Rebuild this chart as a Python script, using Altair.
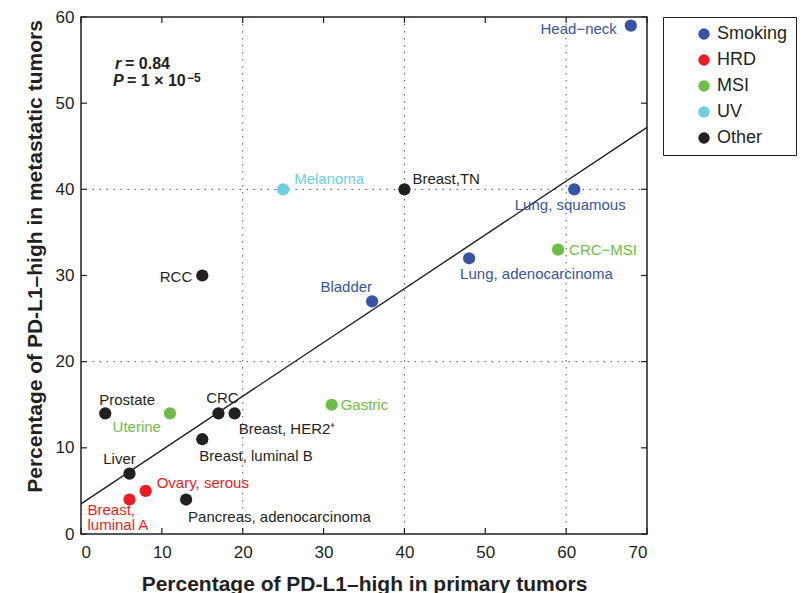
import altair as alt
import pandas as pd

# ---------------- data ----------------
names = ["Head−neck", "Lung, squamous", "Lung, adenocarcinoma", "Bladder",
         "CRC−MSI", "Gastric", "Uterine", "Melanoma", "Breast,TN", "RCC",
         "Prostate", "CRC", "Breast, HER2⁺", "Breast, luminal B", "Liver",
         "Pancreas, adenocarcinoma", "Ovary, serous", "Breast,\nluminal A"]
primary = [68, 61, 48, 36, 59, 31, 11, 25, 40, 15, 3, 17, 19, 15, 6, 13, 8, 6]
metastatic = [59, 40, 32, 27, 33, 15, 14, 40, 40, 30, 14, 14, 14, 11, 7, 4, 5, 4]
groups = ["Smoking", "Smoking", "Smoking", "Smoking", "MSI", "MSI", "MSI", "UV",
          "Other", "Other", "Other", "Other", "Other", "Other", "Other", "Other",
          "HRD", "HRD"]

group_order = ["Smoking", "HRD", "MSI", "UV", "Other"]
group_colors = ["#3953A4", "#ED1C24", "#6DBE45", "#6DCFE0", "#231F20"]

tick_values = [0, 10, 20, 30, 40, 50, 60, 70]
y_tick_values = [0, 10, 20, 30, 40, 50, 60]
grid_x = [20, 40, 60]
grid_y = [20, 40]

fit_x = [0, 70]
fit_y = [3.5, 47.2]

# label placement (style only): align, dx, dy
label_style = [
    ("right", -14, 3), ("center", -4, 16), ("left", -9, 16), ("right", 0, -14),
    ("left", 11, 0), ("left", 9, 0), ("right", -9, 14), ("left", 11, -10),
    ("left", 8, -10), ("right", -10, 1), ("left", -6, -13), ("center", 4, -15),
    ("left", 4, 16), ("left", -3, 17), ("center", -10, -15), ("left", 2, 17),
    ("left", 11, -8), ("left", -42, 10.5),
]

# ---------------- chart ----------------
W, H = 566, 517
FONT = "Liberation Sans"
INK = "#231F20"

df = pd.DataFrame({"name": names, "primary": primary,
                   "metastatic": metastatic, "group": groups,
                   "idx": list(range(len(names)))})

xs = alt.Scale(domain=[0, 70], nice=False, zero=False)
ys = alt.Scale(domain=[0, 60], nice=False, zero=False)
cs = alt.Scale(domain=group_order, range=group_colors)

x_axis = alt.Axis(values=tick_values, ticks=False, domain=False, grid=False,
                  labelFontSize=17, labelColor=INK, labelPadding=10,
                  title="Percentage of PD-L1–high in primary tumors",
                  titleFontSize=21, titleFontWeight="bold", titleColor=INK,
                  titleBaseline="alphabetic", titleY=56)
y_axis = alt.Axis(values=y_tick_values, ticks=False, domain=False, grid=False,
                  labelFontSize=17, labelColor=INK, labelPadding=7,
                  title="Percentage of PD-L1–high in metastatic tumors",
                  titleFontSize=21, titleFontWeight="bold", titleColor=INK,
                  titleAngle=-90, titleAlign="center", titleBaseline="middle",
                  titleX=-46, titleY=239)

grid_v = alt.Chart(pd.DataFrame({"g": grid_x})).mark_rule(
    color="#555555", strokeWidth=1, strokeDash=[1.5, 5.5]
).encode(x=alt.X("g:Q", scale=xs, axis=x_axis))

grid_h = alt.Chart(pd.DataFrame({"g": grid_y})).mark_rule(
    color="#555555", strokeWidth=1, strokeDash=[1.5, 5.5]
).encode(y=alt.Y("g:Q", scale=ys, axis=y_axis))

tdx = pd.DataFrame({"t": tick_values})
tdy = pd.DataFrame({"t": y_tick_values})
ticks_bottom = alt.Chart(tdx).mark_rule(color=INK, strokeWidth=1.2).encode(
    x=alt.X("t:Q", scale=xs), y=alt.value(H), y2=alt.value(H - 6))
ticks_top = alt.Chart(tdx).mark_rule(color=INK, strokeWidth=1.2).encode(
    x=alt.X("t:Q", scale=xs), y=alt.value(0), y2=alt.value(6))
ticks_left = alt.Chart(tdy).mark_rule(color=INK, strokeWidth=1.2).encode(
    y=alt.Y("t:Q", scale=ys), x=alt.value(0), x2=alt.value(6))
ticks_right = alt.Chart(tdy).mark_rule(color=INK, strokeWidth=1.2).encode(
    y=alt.Y("t:Q", scale=ys), x=alt.value(W), x2=alt.value(W - 6))

fit = alt.Chart(pd.DataFrame({"fx": fit_x, "fy": fit_y})).mark_line(
    color=INK, strokeWidth=1.4
).encode(x=alt.X("fx:Q", scale=xs), y=alt.Y("fy:Q", scale=ys))

points = alt.Chart(df).mark_circle(size=150, opacity=1).encode(
    x=alt.X("primary:Q", scale=xs),
    y=alt.Y("metastatic:Q", scale=ys),
    color=alt.Color("group:N", scale=cs, sort=group_order,
                    legend=alt.Legend(orient="none", legendX=582, legendY=0,
                                      title=None, strokeColor=INK, padding=8,
                                      symbolOffset=24, labelOffset=4,
                                      labelFontSize=18, labelColor=INK,
                                      symbolSize=130, symbolType="circle",
                                      symbolStrokeWidth=0, rowPadding=8)),
)

label_layers = []
for i, (al, dx, dy) in enumerate(label_style):
    label_layers.append(
        alt.Chart(df).transform_filter(alt.datum.idx == i).mark_text(
            align=al, dx=dx, dy=dy, baseline="middle", fontSize=15,
            lineBreak="\n", lineHeight=15
        ).encode(
            x=alt.X("primary:Q", scale=xs),
            y=alt.Y("metastatic:Q", scale=ys),
            text="name:N",
            color=alt.Color("group:N", scale=cs, legend=None),
        )
    )

ann = pd.DataFrame({"a": [0]})
stat_r = alt.Chart(ann).mark_text(text="r", fontSize=16, fontWeight="bold",
                                  fontStyle="italic", align="left",
                                  baseline="alphabetic", color=INK).encode(
    x=alt.value(34), y=alt.value(51.5))
stat_r2 = alt.Chart(ann).mark_text(text="= 0.84", fontSize=16, fontWeight="bold",
                                   align="left", baseline="alphabetic", color=INK).encode(
    x=alt.value(44), y=alt.value(51.5))
stat_p = alt.Chart(ann).mark_text(text="P", fontSize=16, fontWeight="bold",
                                  fontStyle="italic", align="left",
                                  baseline="alphabetic", color=INK).encode(
    x=alt.value(32), y=alt.value(69))
stat_p2 = alt.Chart(ann).mark_text(text="= 1 × 10", fontSize=16, fontWeight="bold",
                                   align="left", baseline="alphabetic", color=INK).encode(
    x=alt.value(46), y=alt.value(69))
stat_p3 = alt.Chart(ann).mark_text(text="−5", fontSize=12, fontWeight="bold",
                                   align="left", baseline="middle", color=INK).encode(
    x=alt.value(106), y=alt.value(61))

chart = alt.layer(
    grid_v, grid_h, ticks_bottom, ticks_top, ticks_left, ticks_right, fit,
    points, *label_layers, stat_r, stat_r2, stat_p, stat_p2, stat_p3
).properties(
    width=W, height=H,
    autosize=alt.AutoSizeParams(type="none"),
    padding={"left": 81, "top": 17, "right": 160, "bottom": 59},
).configure(font=FONT).configure_view(stroke=INK, strokeWidth=1.5)

chart.save("out.html", embed_options={"renderer": "svg", "actions": False})
